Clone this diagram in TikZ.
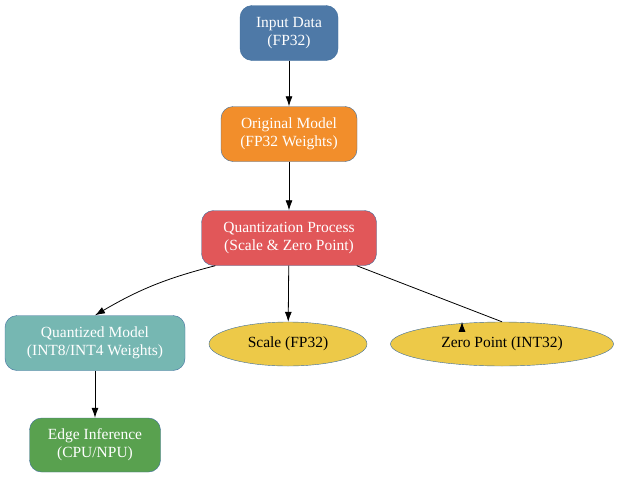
\documentclass[tikz,border=0pt]{standalone}
\usepackage{fontspec}
\setmainfont{Liberation Serif}
\usetikzlibrary{shapes.geometric,arrows.meta}
\definecolor{cblue}{HTML}{4E79A7}
\definecolor{corange}{HTML}{F28E2B}
\definecolor{cred}{HTML}{E15759}
\definecolor{cteal}{HTML}{76B7B2}
\definecolor{cgreen}{HTML}{59A14F}
\definecolor{cyellow}{HTML}{EDC948}
\definecolor{cborder}{HTML}{3F6E9E}
\begin{document}
\begin{tikzpicture}[x=1pt,y=-1pt,
  box/.style={draw=cborder,rounded corners=12pt,text=white,align=center,font=\fontsize{15.5}{18}\selectfont,inner sep=0pt,minimum height=55pt},
  ell/.style={draw=cborder,ellipse,fill=cyellow,font=\fontsize{15.5}{18}\selectfont,inner sep=0pt,minimum height=44pt},
  arr/.style={-{Latex[length=10pt,width=7pt]},line width=0.8pt}]
\useasboundingbox (0,0) rectangle (642,479);
\node[box,fill=cblue,minimum width=98pt] (in) at (289,33) {Input Data\\(FP32)};
\node[box,fill=corange,minimum width=136pt] (om) at (289,134) {Original Model\\(FP32 Weights)};
\node[box,fill=cred,minimum width=175pt] (qp) at (289,238) {Quantization Process\\(Scale \& Zero Point)};
\node[box,fill=cteal,minimum width=180pt] (qm) at (95,343) {Quantized Model\\(INT8/INT4 Weights)};
\node[ell,minimum width=158pt] (sc) at (288,344) {Scale (FP32)};
\node[ell,minimum width=223pt] (zp) at (502,344) {Zero Point (INT32)};
\node[box,fill=cgreen,minimum width=131pt,minimum height=54pt] (ei) at (95,445) {Edge Inference\\(CPU/NPU)};
\draw[arr] (in) -- (om);
\draw[arr] (om) -- (qp);
\draw[arr] (qp.south west) ++(14,0) coordinate (a) (a) to[bend right=8] (qm.north);
\draw[arr] (qp) -- (sc);
\draw[arr] (qp.south east) ++(-20,0) coordinate (b) (b) -- (zp.north) ++(-40,0);
\draw[arr] (qm) -- (ei);
\end{tikzpicture}
\end{document}
